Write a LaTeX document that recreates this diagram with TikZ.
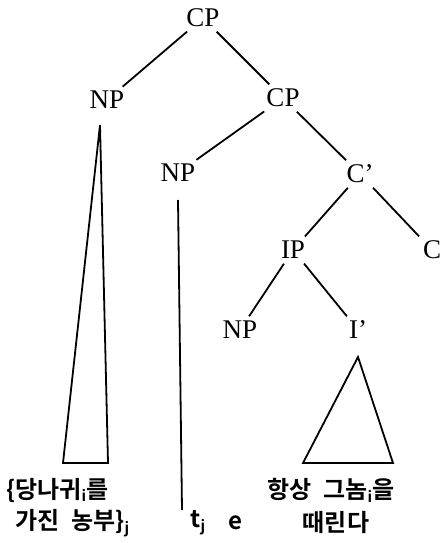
\documentclass[tikz,border=0pt]{standalone}
\usepackage{fontspec}
\setmainfont{Liberation Serif}
\newfontfamily\krfont{Noto Sans CJK KR Bold}
\usetikzlibrary{positioning}
\tikzset{cat/.style={inner sep=3pt,font=\fontsize{27}{30}\selectfont}}
\tikzset{wrd/.style={inner sep=0pt,font=\krfont\fontsize{24}{27}\selectfont}}
\tikzset{br/.style={line width=1.8pt,shorten <=2pt,shorten >=2pt}}
\newcommand{\sub}[1]{\textsubscript{\fontsize{15}{15}\selectfont #1}}
\newcommand{\gap}{\hspace{12pt}}
\begin{document}
\begin{tikzpicture}[x=1pt,y=-1pt]
\useasboundingbox (0,0) rectangle (442,543);
\node [cat] at (203,18) (cp) {CP};
\node [cat] at (107,100) (np1) {NP};
\node [cat] at (283,98) (cp2) {CP};
\node [cat] at (178,173) (np2) {NP};
\node [cat] at (360,174) (cbar) {C'};
\node [cat] at (293,250) (ip) {IP};
\node [cat] at (432,250) (c) {C};
\node [cat] at (240,330) (np3) {NP};
\node [cat] at (358,330) (ibar) {I'};

\draw [br] (cp) -- (np1);
\draw [br] (cp) -- (cp2);
\draw [br] (cp2) -- (np2);
\draw [br] (cp2) -- (cbar);
\draw [br] (cbar) -- (ip);
\draw [br] (cbar) -- (c);
\draw [br] (ip) -- (np3);
\draw [br] (ip) -- (ibar);

% triangles
\coordinate (a1) at (100,125);
\coordinate (l1) at (63,463);
\coordinate (r1) at (108,463);
\draw [line width=1.8pt] (a1) -- (l1) -- (r1) -- cycle;
\coordinate (a2) at (358,357);
\coordinate (l2) at (303,463);
\coordinate (r2) at (393,463);
\draw [line width=1.8pt] (a2) -- (l2) -- (r2) -- cycle;
\coordinate (t1) at (178,200);
\coordinate (t2) at (182,510);
\draw [line width=1.8pt] (t1) -- (t2);

\node [wrd,anchor=west] at (6,490) (w1) {\{당나귀\sub{i}를};
\node [wrd,anchor=west] at (15,523) (w2) {가진\gap 농부\}\sub{j}};
\node [wrd] at (198,523) (w3) {t\sub{j}};
\node [wrd] at (235,523) (w4) {e};
\node [wrd] at (331,490) (w5) {항상\gap 그놈\sub{i}을};
\node [wrd] at (336,523) (w6) {때린다};
\end{tikzpicture}
\end{document}
